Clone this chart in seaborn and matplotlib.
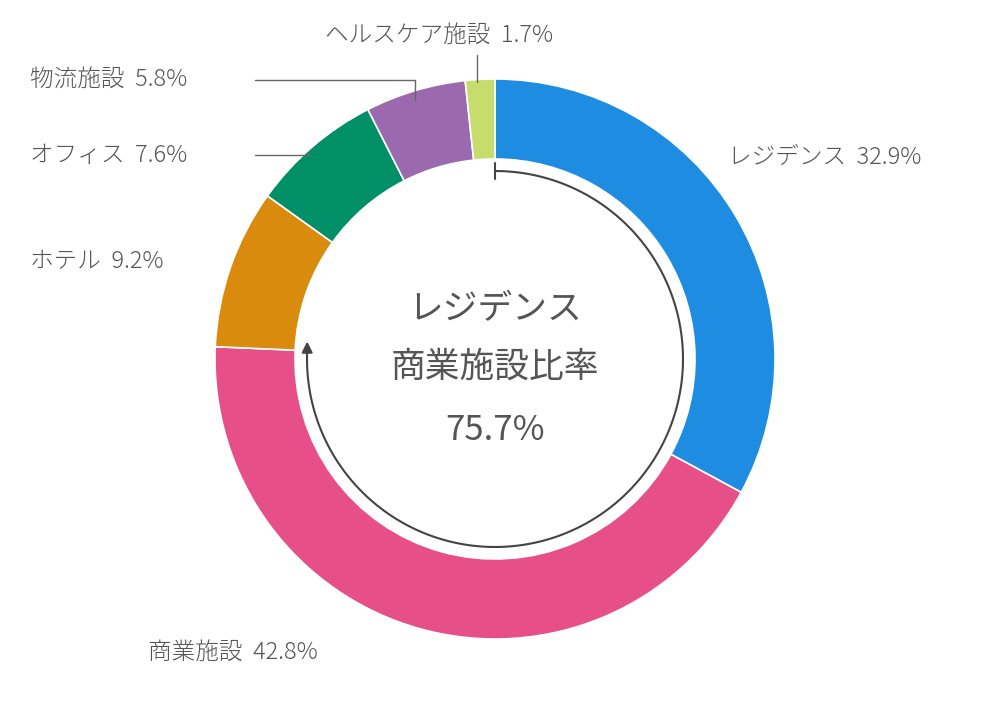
import numpy as np
import matplotlib
matplotlib.use("Agg")
import matplotlib.pyplot as plt
import seaborn as sns

categories = ["レジデンス", "商業施設", "ホテル", "オフィス", "物流施設", "ヘルスケア施設"]
values = [32.9, 42.8, 9.2, 7.6, 5.8, 1.7]
colors = ["#1E8CE0", "#E64F87", "#D98B0E", "#008F66", "#9B69AD", "#C8DC6E"]
center_title = ["レジデンス", "商業施設比率"]
center_value = 75.7

sns.set_theme(style="white")
plt.rcParams['font.family'] = ['Noto Sans CJK JP', 'DejaVu Sans']
TXT = "#555555"

H = 720
fig = plt.figure(figsize=(9.9, 7.2), dpi=100)
ax = fig.add_axes([0, 0, 1, 1])
ax.set_xlim(0, 990); ax.set_ylim(0, H); ax.set_aspect("equal"); ax.axis("off")

cx, cy = 495, H - 359
ax.pie(values, colors=colors, startangle=90, counterclock=False, center=(cx, cy),
       radius=280, wedgeprops=dict(width=80, edgecolor="white", linewidth=1.2), frame=True)
ax.set_xlim(0, 990); ax.set_ylim(0, H); ax.axis("off")

# arc arrow for the combined share
r = 188
th = np.radians(90 - np.linspace(0, center_value / 100 * 360, 300))
ax.plot(cx + r * np.cos(th), cy + r * np.sin(th), color="#444444", lw=1.5)
ax.plot([cx, cx], [cy + r - 8, cy + r + 8], color="#444444", lw=1.5)
ax.annotate("", xy=(cx + r * np.cos(th[-1]), cy + r * np.sin(th[-1]) + 12),
            xytext=(cx + r * np.cos(th[-1]), cy + r * np.sin(th[-1]) - 2),
            arrowprops=dict(arrowstyle="-|>", color="#444444", lw=1.5, mutation_scale=16))

ax.text(cx, H - 310, center_title[0], ha="center", va="center", fontsize=25, color=TXT)
ax.text(cx, H - 367, center_title[1], ha="center", va="center", fontsize=25, color=TXT)
ax.text(cx, H - 430, f"{center_value}%", ha="center", va="center", fontsize=25, color=TXT)

def lab(i, x, y, ha="left"):
    ax.text(x, H - y, f"{categories[i]}  {values[i]}%", ha=ha, va="center",
            fontsize=17, color=TXT, fontweight="light")

lab(0, 728, 158)
lab(1, 148, 652)
lab(2, 30, 262)
lab(3, 30, 155)
lab(4, 30, 80)
lab(5, 325, 35)

lc = "#666666"
ax.plot([255, 312], [H - 155, H - 155], color=lc, lw=1)
ax.plot([255, 415, 415], [H - 80, H - 80, H - 100], color=lc, lw=1)
ax.plot([477, 477], [H - 55, H - 82], color=lc, lw=1)

fig.savefig("out.png", dpi=100)
